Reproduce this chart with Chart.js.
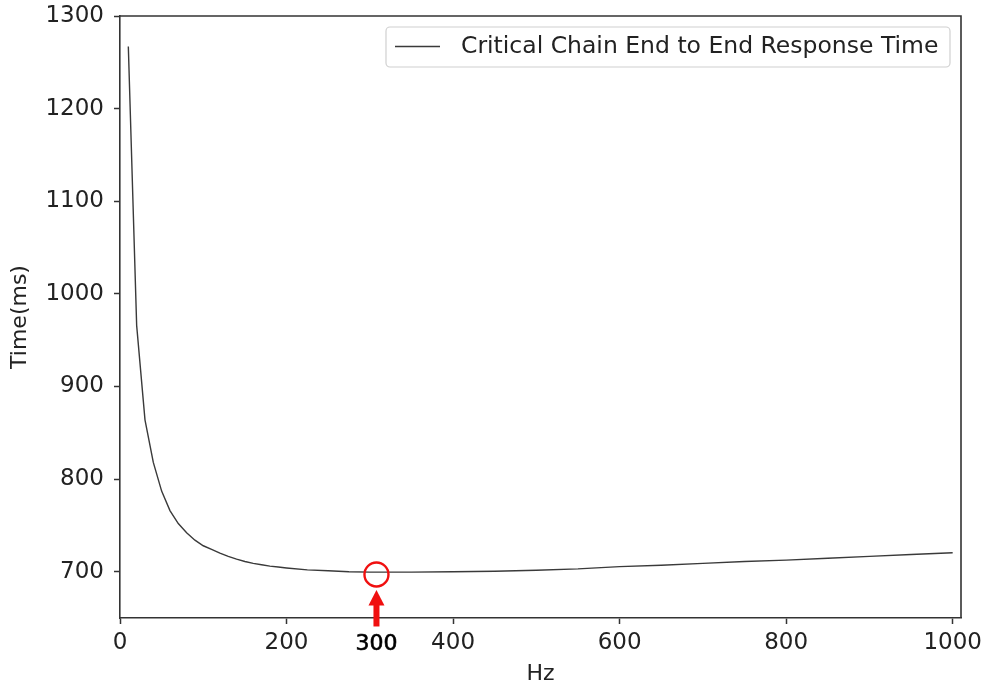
<!DOCTYPE html>
<html>
<head>
<meta charset="utf-8">
<script src="https://cdn.jsdelivr.net/npm/chart.js@4.4.1/dist/chart.umd.min.js"></script>
<style>
  html, body { margin: 0; padding: 0; background: #ffffff; }
  #wrap { width: 987px; height: 685px; position: relative; }
</style>
</head>
<body>
<div id="wrap"><canvas id="c" width="987" height="685"></canvas></div>
<script>
// ---- data ----
const seriesLabel = 'Critical Chain End to End Response Time';
const hz = [10, 20, 30, 40, 50, 60, 70, 80, 90, 100, 110, 120, 130, 140, 150, 160, 170, 180, 190, 200, 225, 250, 275, 300, 350, 400, 450, 500, 550, 600, 650, 700, 750, 800, 850, 900, 950, 1000];
const timeMs = [1267, 966, 864, 818, 787, 766, 752, 742, 734, 728, 724, 720, 716.5, 713.5, 711, 709, 707.5, 706, 705, 704, 702, 701, 700, 699.5, 699.5, 700, 700.5, 701.5, 703, 705.5, 707, 709, 711, 712.5, 714.5, 716.5, 718.5, 720.5];
const xTicks = [0, 200, 400, 600, 800, 1000];
const yTicks = [700, 800, 900, 1000, 1100, 1200, 1300];
const xTitle = 'Hz';
const yTitle = 'Time(ms)';
// marked optimum (red circle + arrow + label)
const markHz = 308;
const markTime = 697;
const markLabel = '300';

const FONT = "'DejaVu Sans', sans-serif";
const AXIS = '#333333';
const LINE = '#3a3a3a';
const RED = '#f01010';

const framePlugin = {
  id: 'frame',
  afterDraw(chart) {
    const { ctx, chartArea: a } = chart;
    ctx.save();
    ctx.strokeStyle = AXIS;
    ctx.lineWidth = 1.6;
    ctx.beginPath();
    ctx.moveTo(a.left, a.top);
    ctx.lineTo(a.right, a.top);
    ctx.lineTo(a.right, a.bottom);
    ctx.stroke();
    ctx.restore();
  }
};

const legendPlugin = {
  id: 'boxLegend',
  afterDraw(chart) {
    const { ctx } = chart;
    const ds = chart.data.datasets[0];
    ctx.save();
    const x0 = 386, y0 = 27, w = 564, h = 40, r = 4;
    ctx.fillStyle = 'rgba(255,255,255,0.85)';
    ctx.strokeStyle = '#d0d0d0';
    ctx.lineWidth = 1.2;
    ctx.beginPath();
    ctx.roundRect(x0, y0, w, h, r);
    ctx.fill();
    ctx.stroke();
    ctx.strokeStyle = ds.borderColor;
    ctx.lineWidth = ds.borderWidth;
    ctx.beginPath();
    ctx.moveTo(395, 46.5);
    ctx.lineTo(440, 46.5);
    ctx.stroke();
    ctx.fillStyle = '#222222';
    ctx.font = "23.5px " + FONT;
    ctx.textBaseline = 'middle';
    ctx.textAlign = 'left';
    ctx.fillText(ds.label, 461, 47);
    ctx.restore();
  }
};

const markPlugin = {
  id: 'mark',
  afterDraw(chart) {
    const { ctx } = chart;
    const cx = chart.scales.x.getPixelForValue(markHz);
    const cy = chart.scales.y.getPixelForValue(markTime);
    ctx.save();
    ctx.strokeStyle = RED;
    ctx.lineWidth = 2.4;
    ctx.beginPath();
    ctx.arc(cx, cy, 12, 0, Math.PI * 2);
    ctx.stroke();
    // arrow
    ctx.fillStyle = RED;
    ctx.fillRect(cx - 3, cy + 29, 6, 23);
    ctx.beginPath();
    ctx.moveTo(cx, cy + 15.5);
    ctx.lineTo(cx - 8, cy + 31);
    ctx.lineTo(cx + 8, cy + 31);
    ctx.closePath();
    ctx.fill();
    // label
    ctx.fillStyle = '#000000';
    ctx.strokeStyle = '#000000';
    ctx.lineWidth = 0.6;
    ctx.font = "22px " + FONT;
    ctx.textAlign = 'center';
    ctx.textBaseline = 'middle';
    ctx.fillText(markLabel, cx, 644);
    ctx.strokeText(markLabel, cx, 644);
    ctx.restore();
  }
};

new Chart(document.getElementById('c'), {
  type: 'line',
  data: {
    datasets: [{
      label: seriesLabel,
      data: hz.map((v, i) => ({ x: v, y: timeMs[i] })),
      borderColor: LINE,
      borderWidth: 1.4,
      pointRadius: 0,
      fill: false,
      tension: 0
    }]
  },
  options: {
    responsive: false,
    animation: false,
    layout: { padding: { top: 16, right: 26, left: 0, bottom: 0 } },
    plugins: { legend: { display: false }, tooltip: { enabled: false } },
    scales: {
      x: {
        type: 'linear',
        position: 'bottom',
        min: 0,
        max: 1010,
        afterBuildTicks(s) { s.ticks = xTicks.map(v => ({ value: v })); },
        afterFit(s) { s.height = 67; s.paddingLeft = 0; s.paddingRight = 0; },
        ticks: {
          font: { family: FONT, size: 23, lineHeight: 1.2 },
          color: '#222222',
          padding: 5,
          maxRotation: 0,
          autoSkip: false,
          callback: v => String(v)
        },
        grid: { drawOnChartArea: false, drawTicks: true, tickLength: 6, tickWidth: 1.5, tickColor: AXIS },
        border: { display: true, color: AXIS, width: 1.6 },
        title: {
          display: true, text: xTitle, color: '#222222',
          font: { family: FONT, size: 22, lineHeight: 1 },
          padding: { top: 0, bottom: 0 }
        }
      },
      y: {
        type: 'linear',
        position: 'left',
        min: 650,
        max: 1300,
        afterBuildTicks(s) { s.ticks = yTicks.map(v => ({ value: v })); },
        afterFit(s) { s.width = 120; s.paddingTop = 0; s.paddingBottom = 0; },
        ticks: {
          font: { family: FONT, size: 23, lineHeight: 1.2 },
          color: '#222222',
          padding: 10,
          autoSkip: false,
          callback: v => String(v)
        },
        grid: { drawOnChartArea: false, drawTicks: true, tickLength: 6, tickWidth: 1.5, tickColor: AXIS },
        border: { display: true, color: AXIS, width: 1.6 },
        title: {
          display: true, text: yTitle, color: '#222222',
          font: { family: FONT, size: 22, lineHeight: 1 },
          padding: { top: 9, bottom: 0 }
        }
      }
    }
  },
  plugins: [framePlugin, legendPlugin, markPlugin]
});
</script>
</body>
</html>
